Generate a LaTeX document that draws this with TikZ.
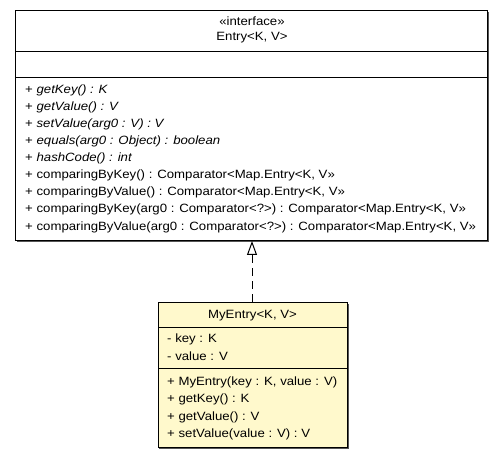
\documentclass[tikz,border=0pt]{standalone}
\usepackage{fontspec}
\setmainfont{Liberation Sans}[FakeStretch=1.1]
\usetikzlibrary{arrows.meta}
\definecolor{classfill}{HTML}{FFF9CC}
\definecolor{shadowgray}{HTML}{555555}
\tikzset{
  umltext/.style={inner sep=0pt, anchor=west, font=\fontsize{12}{14}\selectfont},
  umltitle/.style={inner sep=0pt, anchor=center, font=\fontsize{12}{14}\selectfont},
  classbox/.style={draw=black, line width=1pt, inner sep=0pt, anchor=north west},
  boxshadow/.style={fill=shadowgray, draw=none},
  divider/.style={draw=black, line width=1pt},
  realize/.style={draw=black, line width=1pt, dash pattern=on 8pt off 5pt,
    -{Triangle[open, length=14pt, width=10pt, line width=1pt]}},
}
\begin{document}
\begin{tikzpicture}[x=1pt,y=-1pt]
\useasboundingbox (0,0) rectangle (504,457);
% Entry interface
\fill[boxshadow] (17,12) rectangle (489,242);
\node[classbox, fill=white, minimum width=472pt, minimum height=230pt] (entry) at (15,10) {};
\draw[divider] (15,52) -- (487,52);
\draw[divider] (15,78) -- (487,78);
\node[umltitle] (stereo) at (252,21) {«interface»};
\node[umltitle] (entryname) at (252,38) {Entry<K, V>};
\node[umltext] (m1) at (25,90) {+ \textit{getKey() : K}};
\node[umltext] (m2) at (25,107) {+ \textit{getValue() : V}};
\node[umltext] (m3) at (25,124) {+ \textit{setValue(arg0 : V) : V}};
\node[umltext] (m4) at (25,141) {+ \textit{equals(arg0 : Object) : boolean}};
\node[umltext] (m5) at (25,158) {+ \textit{hashCode() : int}};
\node[umltext] (m6) at (25,175.5) {+ comparingByKey() : Comparator<Map.Entry<K, V>>};
\node[umltext] (m7) at (25,192.5) {+ comparingByValue() : Comparator<Map.Entry<K, V>>};
\node[umltext] (m8) at (25,209.5) {+ comparingByKey(arg0 : Comparator<?>) : Comparator<Map.Entry<K, V>>};
\node[umltext] (m9) at (25,227) {+ comparingByValue(arg0 : Comparator<?>) : Comparator<Map.Entry<K, V>>};
% MyEntry class
\fill[boxshadow] (159,304) rectangle (349,449);
\node[classbox, fill=classfill, minimum width=189pt, minimum height=145pt] (myentry) at (158,302) {};
\draw[divider] (158,328) -- (347,328);
\draw[divider] (158,369) -- (347,369);
\node[umltitle] (myname) at (252.5,315.5) {MyEntry<K, V>};
\node[umltext] (a1) at (167,339) {- key : K};
\node[umltext] (a2) at (167,356.5) {- value : V};
\node[umltext] (o1) at (167,382.5) {+ MyEntry(key : K, value : V)};
\node[umltext] (o2) at (167,399.5) {+ getKey() : K};
\node[umltext] (o3) at (167,417) {+ getValue() : V};
\node[umltext] (o4) at (167,434) {+ setValue(value : V) : V};
% realization
\draw[realize] (myentry.north -| 252,0) -- (entry.south -| 252,0);
\end{tikzpicture}
\end{document}
